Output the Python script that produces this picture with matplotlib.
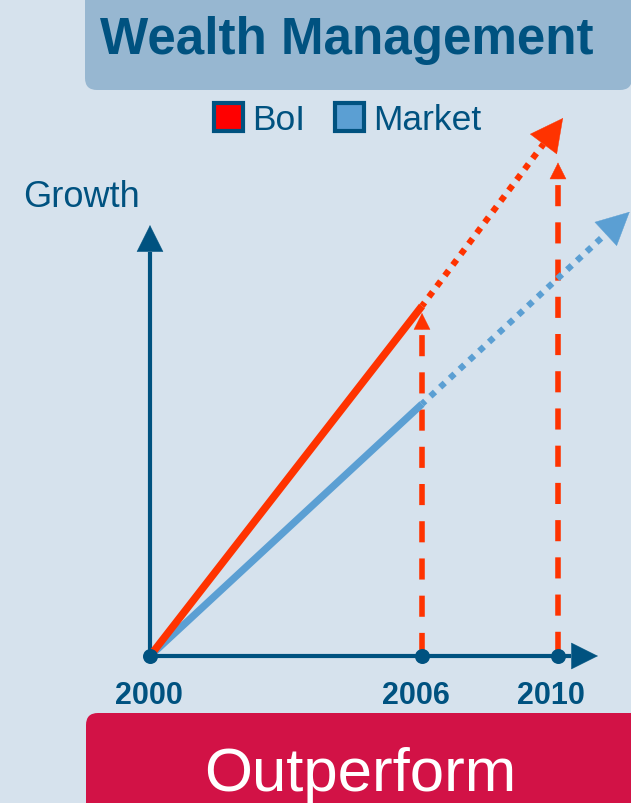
import numpy as np
import matplotlib
matplotlib.use("Agg")
import matplotlib.pyplot as plt
from matplotlib.patches import FancyBboxPatch, Patch
import matplotlib.transforms as mtransforms

# ---------------- data ----------------
years = ['2000', '2006', '2010']
year_pos = [0, 6, 9]              # schematic timeline position of each year
bol_actual = [0, 10.0]            # BoI growth 2000 -> 2006
market_actual = [0, 7.2]          # Market growth 2000 -> 2006
bol_projection_end = [9.11, 15.37]     # projected BoI growth (arrow tip)
market_projection_end = [10.58, 12.69] # projected Market growth (arrow tip)
marker_heights = [9.8, 14.1]      # dashed markers at 2006 and 2010
growth_axis_top = 12.31
time_axis_end = 9.88

# ---------------- style ----------------
BG = '#D6E2ED'
TITLE_BOX = '#97B7D1'
DARK = '#005280'
RED = '#FF3300'
BLUE = '#5B9FD3'
CRIMSON = '#D21246'
FONT = 'Liberation Sans'

W, H = 631, 804
fig = plt.figure(figsize=(W / 100, H / 100), dpi=100)
fig.patch.set_facecolor(BG)

# background / decoration layer in pixel units
bg = fig.add_axes([0, 0, 1, 1], zorder=0)
bg.set_xlim(0, W)
bg.set_ylim(H, 0)
bg.axis('off')

bg.add_patch(FancyBboxPatch((85, -30), 547, 121,
                            boxstyle='round,pad=0,rounding_size=12',
                            fc=TITLE_BOX, ec='none'))
bg.add_patch(FancyBboxPatch((86, 714), 560, 130,
                            boxstyle='round,pad=0,rounding_size=12',
                            fc=CRIMSON, ec='none'))
bg.text(347, 54, 'Wealth Management', fontsize=36.8, fontweight='bold',
        color=DARK, family=FONT, ha='center', va='baseline')
bg.text(360, 791, 'Outperform', fontsize=44.5, color='white',
        family=FONT, ha='center', va='baseline')
bg.text(23, 207, 'Growth', fontsize=26, color=DARK, family=FONT,
        ha='left', va='baseline')

# ---------------- data axes ----------------
ax = fig.add_axes([0, 0, 1, 1], zorder=1)
ax.patch.set_alpha(0)
px_x = 272 / 6.0   # pixels per x unit
px_y = 35.0        # pixels per y unit
ox, oy = 150, H - 657
ax.set_xlim(-ox / px_x, (W - ox) / px_x)
ax.set_ylim(-oy / px_y, (H - oy) / px_y)
ax.axis('off')


def backoff(tail, tip, dist_px):
    """Point dist_px before tip along tail->tip (display space)."""
    t = ax.transData.transform(tail)
    p = ax.transData.transform(tip)
    d = (p - t) / np.hypot(*(p - t))
    return ax.transData.inverted().transform(p - d * dist_px)


def head(tail, tip, length_px, halfw_px, color, z):
    base = backoff(tail, tip, length_px + 0.5)
    L = length_px * 72 / 100
    Wd = halfw_px * 72 / 100
    ax.annotate('', xy=tip, xytext=base, annotation_clip=False,
                arrowprops=dict(arrowstyle=f'-|>,head_length={L},head_width={Wd}',
                                mutation_scale=1, shrinkA=0, shrinkB=0,
                                color=color, lw=0.3),
                zorder=z)
    return base


# dashed vertical markers
for xp, h in zip(year_pos[1:], marker_heights):
    base = head((xp, 0), (xp, h), 16, 8, RED, 2)
    ax.plot([xp, xp], [base[1], 0], color=RED, lw=4,
            linestyle=(5.6, (3.8, 2.9)), solid_capstyle='butt',
            dash_capstyle='butt', zorder=2)

# axes arrows
b = head((0, 0), (0, growth_axis_top), 26, 13, DARK, 4)
ax.plot([0, 0], [0, b[1]], color=DARK, lw=3, zorder=4, solid_capstyle='butt')
b = head((0, 0), (time_axis_end, 0), 26, 13, DARK, 4)
ax.plot([0, b[0]], [0, 0], color=DARK, lw=3, zorder=4, solid_capstyle='butt')

# Market
ax.plot(year_pos[:2], market_actual, color=BLUE, lw=5.2,
        solid_capstyle='butt', zorder=5)
mstart = (year_pos[1], market_actual[1])
b = head(mstart, market_projection_end, 32, 16, BLUE, 6)
ax.plot([mstart[0], b[0]], [mstart[1], b[1]], color=BLUE, lw=4.5,
        linestyle=(0.3, (1, 1.13)), dash_capstyle='butt', zorder=6)

# BoI
ax.plot(year_pos[:2], bol_actual, color=RED, lw=5.4,
        solid_capstyle='butt', zorder=5)
bstart = (year_pos[1], bol_actual[1])
b = head(bstart, bol_projection_end, 32, 16.5, RED, 6)
ax.plot([bstart[0], b[0]], [bstart[1], b[1]], color=RED, lw=4.5,
        linestyle=(0.3, (1, 1.13)), dash_capstyle='butt', zorder=6)

# year dots and labels
ax.plot(year_pos, [0] * len(year_pos), 'o', color=DARK, ms=10.8,
        mec='none', zorder=7)
label_shift = [-1, -6, -7]
trans = mtransforms.blended_transform_factory(ax.transData, bg.transData)
for xp, lab, s in zip(year_pos, years, label_shift):
    ax.text(xp, 704, lab, transform=trans + mtransforms.Affine2D().translate(s, 0),
            fontsize=22, fontweight='bold', color=DARK, family=FONT,
            ha='center', va='baseline')

# legend
handles = [Patch(fc='#FF0000', ec=DARK, lw=3, label='BoI'),
           Patch(fc=BLUE, ec=DARK, lw=3, label='Market')]
leg = fig.legend(handles=handles, loc='center', ncol=2, frameon=False,
                 bbox_to_anchor=(347.5 / W, 1 - 120.5 / H),
                 prop=dict(family=FONT, size=25.5),
                 handlelength=0.82, handleheight=0.82, handletextpad=0.25,
                 columnspacing=0.85, borderpad=0, borderaxespad=0)
for t in leg.get_texts():
    t.set_color(DARK)

fig.savefig('out.png', dpi=100, facecolor=BG)
